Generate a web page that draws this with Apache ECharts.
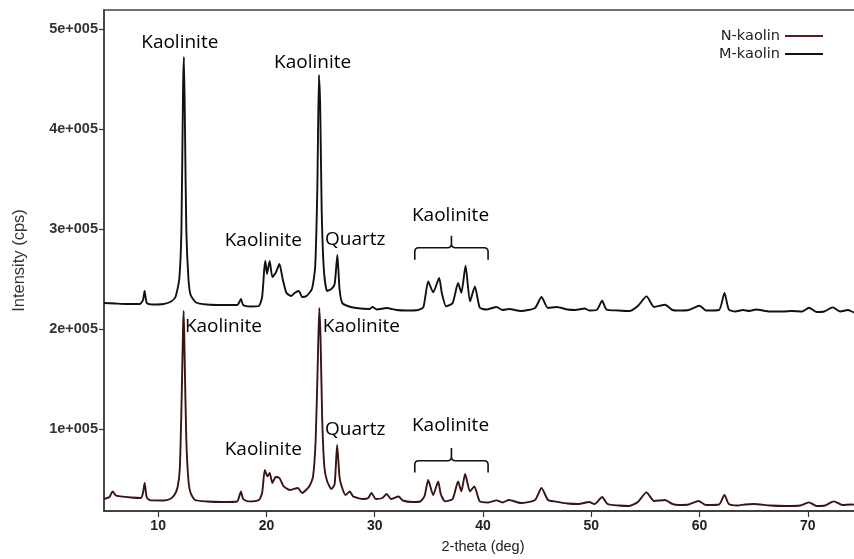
<!DOCTYPE html>
<html>
<head>
<meta charset="utf-8">
<script src="https://cdn.jsdelivr.net/npm/echarts@6/dist/echarts.min.js"></script>
<style>
html,body{margin:0;padding:0;background:#fff;}
#chart{width:854px;height:559px;}
</style>
</head>
<body>
<div id="chart"></div>
<script>
// ---- data (2-theta in degrees, intensity in cps) ----
const seriesNames = ['N-kaolin', 'M-kaolin'];

const nKaolin = [
[5.0,30000],[5.5,32000],[5.8,37600],[6.1,33500],[6.5,32600],[7.5,31500],[8.4,31000],[8.6,36000],
[8.75,46000],[8.95,31500],[9.3,28600],[10.5,28500],[11.1,30000],[11.5,34000],[11.8,42000],[12.0,60000],
[12.15,120000],[12.3,200000],[12.36,218000],[12.45,170000],[12.6,90000],[12.8,48000],[13.0,36000],
[13.4,29000],[14.5,27500],[16.0,27000],[17.3,27500],[17.5,33000],[17.64,37600],[17.85,30000],
[18.3,27600],[19.3,29000],[19.6,36000],[19.85,59000],[20.1,52600],[20.3,56000],[20.55,46000],
[20.85,52000],[21.2,51000],[21.6,42600],[22.2,39000],[22.9,41000],[23.3,36000],[23.95,42600],
[24.3,52000],[24.55,90000],[24.75,170000],[24.88,221000],[25.0,190000],[25.15,110000],[25.35,62000],
[25.6,48000],[26.0,40000],[26.3,45000],[26.53,84000],[26.75,52000],[26.95,42600],[27.3,34000],
[27.7,37600],[28.0,32600],[28.95,30000],[29.4,31000],[29.7,36000],[30.1,30000],[30.7,31000],
[31.1,35000],[31.5,30000],[32.2,32500],[32.6,28500],[33.5,27000],[34.2,27500],[34.6,33000],
[34.94,49000],[35.4,34000],[35.86,47600],[36.1,35000],[36.5,27600],[37.2,30000],[37.7,47600],
[38.0,37600],[38.35,55000],[38.8,37600],[39.2,42600],[39.7,27600],[40.5,26500],[41.25,28600],
[41.8,26500],[42.4,29000],[43.5,26000],[44.8,29000],[45.4,41000],[46.0,29000],[46.6,27600],
[47.8,25500],[48.8,25000],[49.8,27000],[50.3,25000],[51.0,32000],[51.5,25000],[52.5,23500],
[53.5,23000],[54.3,27000],[55.1,36600],[55.8,28000],[56.8,29000],[57.5,25000],[58.1,24000],
[59.0,24500],[59.9,28000],[60.6,24000],[61.8,24500],[62.3,34000],[62.7,25000],[63.5,23500],
[64.2,24500],[65.0,25000],[66.5,23500],[68.0,23000],[69.3,23500],[70.1,26600],[70.8,23000],
[71.6,23500],[72.4,27600],[73.2,24000],[74.0,24500],[75.0,23500]
];

const mKaolin = [
[5.0,226000],[6.0,225500],[7.0,225000],[8.3,225000],[8.6,229000],[8.75,238000],[8.95,226000],
[9.5,224500],[10.5,225000],[11.2,227500],[11.6,232000],[11.95,250000],[12.15,300000],[12.3,440000],
[12.38,472000],[12.48,400000],[12.6,300000],[12.8,250000],[13.0,234000],[13.5,226500],[14.5,224500],
[16.0,224000],[17.3,224000],[17.55,228000],[17.65,230000],[17.85,224000],[18.5,222500],[19.3,223000],
[19.6,232000],[19.8,260000],[19.9,268000],[20.05,255000],[20.3,268000],[20.55,252000],[20.85,256000],
[21.2,265000],[21.5,250000],[21.85,236000],[22.3,233000],[22.6,236000],[23.0,238000],[23.3,232000],
[23.7,233000],[24.2,240000],[24.5,262000],[24.7,340000],[24.85,454000],[24.97,420000],[25.1,320000],
[25.3,260000],[25.6,238000],[26.0,240000],[26.3,245000],[26.55,274000],[26.75,240000],[27.0,226000],
[27.5,223000],[28.3,221000],[29.5,220000],[29.8,222000],[30.2,219500],[31.1,221000],[32.0,219000],
[33.0,218500],[34.0,219000],[34.5,222000],[34.94,247600],[35.4,236600],[35.95,251000],[36.2,236000],
[36.6,222600],[37.2,226000],[37.7,246000],[38.0,236300],[38.39,263300],[38.8,227600],[39.25,242600],
[39.7,221300],[40.3,219500],[41.25,222000],[41.8,219000],[42.4,220000],[43.5,218000],[44.8,221000],
[45.4,232000],[46.0,221000],[46.8,222000],[47.8,219500],[48.5,219000],[49.4,220500],[49.8,218500],
[50.5,219000],[51.0,228300],[51.4,219500],[52.5,218500],[53.5,218000],[54.3,223000],[55.1,232600],
[55.8,222000],[56.8,224300],[57.5,219000],[58.1,218500],[59.0,219000],[60.0,223300],[60.6,218500],
[61.8,219000],[62.3,236000],[62.7,219500],[63.3,217500],[64.0,219000],[64.6,218000],[65.2,219500],
[66.5,217500],[67.7,217500],[68.5,218000],[69.5,217500],[70.1,221300],[70.8,217000],[71.5,217500],
[72.3,221600],[73.0,217500],[73.7,219000],[74.3,216500],[75.0,217000]
];

const xTickValues = [10, 20, 30, 40, 50, 60, 70];
const yTickValues = [100000, 200000, 300000, 400000, 500000];
const yTickLabels = ['1e+005', '2e+005', '3e+005', '4e+005', '5e+005'];

// phase annotations: [2-theta, intensity, text]
const annotations = [
  [12.0, 486000, 'Kaolinite'],
  [24.27, 466000, 'Kaolinite'],
  [19.71, 288000, 'Kaolinite'],
  [28.2, 289000, 'Quartz'],
  [37.0, 313000, 'Kaolinite'],
  [16.03, 202000, 'Kaolinite'],
  [28.77, 202000, 'Kaolinite'],
  [19.71, 79000, 'Kaolinite'],
  [28.2, 99000, 'Quartz'],
  [37.0, 103000, 'Kaolinite']
];
// brackets: [x start, x end, y of bar, y of ends, y of tip]
const brackets = [
  [33.7, 40.47, 281300, 269300, 293300],
  [33.7, 40.47, 68300, 56600, 81000]
];

const chart = echarts.init(document.getElementById('chart'), null, {renderer: 'canvas'});

const option = {
  animation: false,
  backgroundColor: '#fff',
  grid: {
    left: 104, width: 758, top: 10, bottom: 48,
    outerBoundsMode: 'none', containLabel: false,
    show: true, borderColor: '#444', borderWidth: 1.3, backgroundColor: 'transparent'
  },
  legend: {
    data: seriesNames,
    orient: 'vertical',
    right: 26, top: 22,
    align: 'right',
    icon: 'rect',
    itemWidth: 38, itemHeight: 2,
    itemGap: 0,
    textStyle: {fontFamily: 'DejaVu Sans', fontSize: 14.5, color: '#222', lineHeight: 18}
  },
  xAxis: {
    type: 'value', min: 5, max: 75,
    name: '2-theta (deg)', nameLocation: 'middle', nameGap: 28,
    nameTextStyle: {fontFamily: 'Liberation Sans', fontSize: 14.5, color: '#222'},
    axisLine: {show: true, onZero: false, lineStyle: {color: '#333', width: 1.5}},
    axisTick: {show: true, length: 6, customValues: xTickValues, lineStyle: {color: '#333', width: 1.2}},
    axisLabel: {customValues: xTickValues, margin: 8, fontFamily: 'Liberation Sans', fontWeight: 'bold', fontSize: 14, color: '#222'},
    splitLine: {show: false}
  },
  yAxis: {
    type: 'value', min: 18000, max: 519000,
    name: 'Intensity (cps)', nameLocation: 'middle', nameGap: 76,
    nameTextStyle: {fontFamily: 'Liberation Sans', fontSize: 16.5, color: '#333'},
    axisLine: {show: true, onZero: false, lineStyle: {color: '#333', width: 1.5}},
    axisTick: {show: true, length: 5, customValues: yTickValues, lineStyle: {color: '#333', width: 1.2}},
    axisLabel: {
      customValues: yTickValues, margin: 6,
      fontFamily: 'Liberation Sans', fontWeight: 'bold', fontSize: 14.5, color: '#333',
      formatter: function (v) {
        const i = yTickValues.indexOf(v);
        return i >= 0 ? yTickLabels[i] : '';
      }
    },
    splitLine: {show: false}
  },
  series: [
    {
      name: seriesNames[0], type: 'line', data: nKaolin,
      showSymbol: false, smooth: 0.2, color: '#5a1e1e',
      lineStyle: {color: '#3a1414', width: 1.9}, z: 3
    },
    {
      name: seriesNames[1], type: 'line', data: mKaolin,
      showSymbol: false, smooth: 0.2, color: '#111',
      lineStyle: {color: '#111', width: 1.9}, z: 3
    },
    {
      type: 'scatter', silent: true, symbolSize: 0, z: 5,
      itemStyle: {opacity: 1},
      data: annotations.map(a => ({value: [a[0], a[1]], name: a[2]})),
      label: {
        show: true, position: 'inside', formatter: '{b}',
        fontFamily: 'Open Sans', fontSize: 19, color: '#000'
      }
    },
    {
      type: 'custom', silent: true, z: 5,
      data: brackets,
      renderItem: function (params, api) {
        const L = api.coord([api.value(0), api.value(2)]);
        const R = api.coord([api.value(1), api.value(2)]);
        const yEnd = api.coord([api.value(0), api.value(3)])[1];
        const yTip = api.coord([api.value(0), api.value(4)])[1];
        const yH = L[1];
        const xL = L[0], xR = R[0], xC = (xL + xR) / 2;
        const r = 4;
        const d = 'M' + xL + ' ' + yEnd + ' L' + xL + ' ' + (yH + r) +
          ' Q' + xL + ' ' + yH + ' ' + (xL + r) + ' ' + yH +
          ' L' + (xC - r) + ' ' + yH +
          ' Q' + xC + ' ' + yH + ' ' + xC + ' ' + (yH - r) +
          ' L' + xC + ' ' + yTip +
          ' M' + xC + ' ' + (yH - r) +
          ' Q' + xC + ' ' + yH + ' ' + (xC + r) + ' ' + yH +
          ' L' + (xR - r) + ' ' + yH +
          ' Q' + xR + ' ' + yH + ' ' + xR + ' ' + (yH + r) +
          ' L' + xR + ' ' + yEnd;
        return {
          type: 'path',
          shape: {pathData: d},
          style: {fill: null, stroke: '#111', lineWidth: 1.6}
        };
      }
    }
  ]
};
chart.setOption(option);
</script>
</body>
</html>
